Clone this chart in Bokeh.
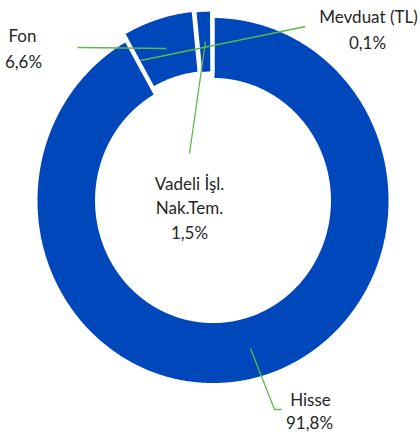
import numpy as np
from bokeh.plotting import figure
from bokeh.models import Range1d, ColumnDataSource
from bokeh.core.properties import value
from bokeh.embed import file_html
from bokeh.resources import INLINE

# ---- data ----
categories = ["Hisse", "Fon", "Vadeli İşl.\nNak.Tem.", "Mevduat (TL)"]
shares = [91.8, 6.6, 1.5, 0.1]
share_labels = ["91,8%", "6,6%", "1,5%", "0,1%"]

# ---- style / layout ----
explode = [0.0, 0.04, 0.035, 0.035]
CX, CY = 212.5, 200.0      # centre (page px)
RX, RY = 177.0, 184.0      # outer radii (px, slightly elliptical as in reference)
INNER = 0.658
BLUE = "#0047BB"
GREEN = "#5DB84A"
TEXT = "#262626"
FONT = "Lato"
FSIZE = "17px"

# label anchor positions (page px) per category, one per text line
label_pos = [
    [(310, 399), (309, 422)],
    [(22, 35), (23, 61)],
    [(189, 183), (189, 207), (189, 232)],
    [(368, 16), (367, 42)],
]
leaders = [
    [(250, 348), (274, 409), (281, 409)],
    [(77, 47), (166, 48)],
    [(189, 153), (205, 41)],
    [(305, 26), (140, 60)],
]

W, H = 420, 437
p = figure(width=W, height=H, x_range=Range1d(0, W), y_range=Range1d(H, 0),
           output_backend="svg", toolbar_location=None, min_border=0,
           x_axis_location=None, y_axis_location=None)
p.grid.visible = False
p.outline_line_color = None
p.background_fill_color = "white"
p.border_fill_color = "white"

total = sum(shares)
fracs = np.array(shares) / total
ends = np.cumsum(fracs) * 2 * np.pi
starts = ends - fracs * 2 * np.pi

xs, ys = [], []
for s, e, ex in zip(starts, ends, explode):
    mid = (s + e) / 2
    ox, oy = ex * RX * np.sin(mid), -ex * RY * np.cos(mid)
    t = np.linspace(s, e, max(int((e - s) * 180), 4))
    x_out = CX + ox + RX * np.sin(t)
    y_out = CY + oy - RY * np.cos(t)
    x_in = CX + ox + INNER * RX * np.sin(t[::-1])
    y_in = CY + oy - INNER * RY * np.cos(t[::-1])
    xs.append(np.concatenate([x_out, x_in]).tolist())
    ys.append(np.concatenate([y_out, y_in]).tolist())

src = ColumnDataSource(dict(xs=xs, ys=ys, cat=categories, share=shares))
p.patches("xs", "ys", source=src, fill_color=BLUE, line_color="white", line_width=3)

# leader lines
p.multi_line([[pt[0] for pt in l] for l in leaders], [[pt[1] for pt in l] for l in leaders],
             line_color=GREEN, line_width=1.3)

# labels
tx, ty, tt = [], [], []
for cat, lab, pos in zip(categories, share_labels, label_pos):
    lines = cat.split("\n") + [lab]
    for line, (x, y) in zip(lines, pos):
        tx.append(x); ty.append(y); tt.append(line)
p.text(tx, ty, text=tt, text_align="center", text_baseline="middle",
       text_font=value(FONT), text_font_size=FSIZE, text_color=TEXT)

open("out.html", "w").write(file_html(p, INLINE))
